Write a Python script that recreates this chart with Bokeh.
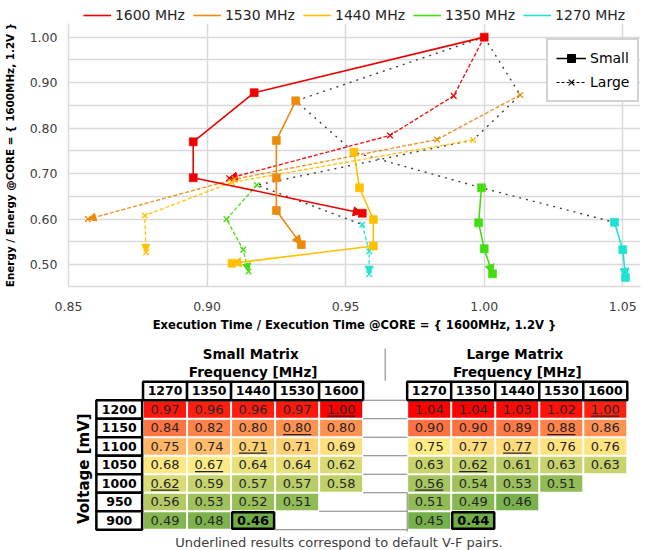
import numpy as np
from bokeh.plotting import figure
from bokeh.models import (Range1d, FixedTicker, PrintfTickFormatter, Legend, LegendItem,
                          Arrow, NormalHead, ColumnDataSource)
from bokeh.layouts import column
from bokeh.core.properties import value
from bokeh.embed import file_html
from bokeh.resources import INLINE

FONT = "DejaVu Sans"

# ---------------- chart data ----------------
freq_labels = ["1600 MHz", "1530 MHz", "1440 MHz", "1350 MHz", "1270 MHz"]
freq_colors = ["#EE0000", "#EB8A0C", "#FFC000", "#44DD11", "#1EE3D2"]

# Small matrix (solid, squares), voltage descending from 1200 mV
small_time_1600 = [1.000, 0.917, 0.895, 0.895, 0.956]
small_energy_1600 = [1.000, 0.878, 0.770, 0.691, 0.613]
small_time_1530 = [0.932, 0.925, 0.925, 0.925, 0.934]
small_energy_1530 = [0.860, 0.773, 0.691, 0.619, 0.544]
small_time_1440 = [0.953, 0.955, 0.960, 0.960, 0.909]
small_energy_1440 = [0.747, 0.669, 0.599, 0.541, 0.503]
small_time_1350 = [0.999, 0.998, 1.000, 1.003]
small_energy_1350 = [0.669, 0.592, 0.535, 0.480]
small_time_1270 = [1.047, 1.050, 1.051]
small_energy_1270 = [0.593, 0.533, 0.472]

# Large matrix (dashed, x markers)
large_time_1600 = [1.000, 0.989, 0.966, 0.908]
large_energy_1600 = [1.000, 0.871, 0.784, 0.690]
large_time_1530 = [1.013, 0.983, 0.910, 0.857]
large_energy_1530 = [0.873, 0.775, 0.688, 0.600]
large_time_1440 = [0.996, 0.909, 0.8775, 0.878]
large_energy_1440 = [0.774, 0.681, 0.608, 0.527]
large_time_1350 = [0.918, 0.907, 0.913, 0.915]
large_energy_1350 = [0.675, 0.600, 0.533, 0.485]
large_time_1270 = [0.956, 0.9585, 0.9585]
large_energy_1270 = [0.588, 0.529, 0.479]

x_ticks = [0.85, 0.90, 0.95, 1.00, 1.05]
y_ticks = [0.50, 0.60, 0.70, 0.80, 0.90, 1.00]
y_minor = [0.55, 0.65, 0.75, 0.85, 0.95]

small_series = [(small_time_1600, small_energy_1600), (small_time_1530, small_energy_1530),
                (small_time_1440, small_energy_1440), (small_time_1350, small_energy_1350),
                (small_time_1270, small_energy_1270)]
large_series = [(large_time_1600, large_energy_1600), (large_time_1530, large_energy_1530),
                (large_time_1440, large_energy_1440), (large_time_1350, large_energy_1350),
                (large_time_1270, large_energy_1270)]

# ---------------- table data ----------------
freq_cols = ["1270", "1350", "1440", "1530", "1600"]
volt_rows = ["1200", "1150", "1100", "1050", "1000", "950", "900"]
small_table = [
    [0.97, 0.96, 0.96, 0.97, 1.00],
    [0.84, 0.82, 0.80, 0.80, 0.80],
    [0.75, 0.74, 0.71, 0.71, 0.69],
    [0.68, 0.67, 0.64, 0.64, 0.62],
    [0.62, 0.59, 0.57, 0.57, 0.58],
    [0.56, 0.53, 0.52, 0.51, None],
    [0.49, 0.48, 0.46, None, None],
]
large_table = [
    [1.04, 1.04, 1.03, 1.02, 1.00],
    [0.90, 0.90, 0.89, 0.88, 0.86],
    [0.75, 0.77, 0.77, 0.76, 0.76],
    [0.63, 0.62, 0.61, 0.63, 0.63],
    [0.56, 0.54, 0.53, 0.51, None],
    [0.51, 0.49, 0.46, None, None],
    [0.45, 0.44, None, None, None],
]
# default V-F pairs (underlined): voltage -> frequency
default_pairs = {"1200": "1600", "1150": "1530", "1100": "1440", "1050": "1350", "1000": "1270"}
small_best = ("900", "1440")
large_best = ("900", "1350")

W = 649
BORDERS = dict(min_border_left=67, min_border_right=9)
NAN2 = [np.nan, np.nan]

# ================= top legend strip =================
lf = figure(width=W, height=23, x_range=Range1d(0, 1), y_range=Range1d(0, 1),
            output_backend="svg", toolbar_location=None, min_border_top=0, min_border_bottom=0,
            x_axis_location=None, y_axis_location=None, **BORDERS)
lf.grid.visible = False
lf.outline_line_color = None
leg_r = [lf.line(NAN2, NAN2, line_color=c, line_width=1.6) for c in freq_colors]
top_legend = Legend(items=[LegendItem(label=l, renderers=[r]) for l, r in zip(freq_labels, leg_r)],
                    orientation="horizontal", location="bottom_center",
                    label_text_font=FONT, label_text_font_size="14px", label_text_color="#262626",
                    glyph_width=28, glyph_height=16, label_height=16, label_standoff=4,
                    spacing=8, padding=0, margin=0, border_line_color=None,
                    background_fill_alpha=0)
lf.add_layout(top_legend)

# ================= chart =================
p = figure(width=W, height=311, x_range=Range1d(0.85, 1.0564), y_range=Range1d(0.452, 1.030),
           output_backend="svg", toolbar_location=None,
           min_border_top=0, min_border_bottom=45, **BORDERS)
p.outline_line_color = None
p.background_fill_color = "white"

p.xaxis.ticker = FixedTicker(ticks=x_ticks)
p.yaxis.ticker = FixedTicker(ticks=y_ticks, minor_ticks=y_minor)
for ax in (p.xaxis[0], p.yaxis[0]):
    ax.formatter = PrintfTickFormatter(format="%.2f")
    ax.major_tick_line_color = None
    ax.minor_tick_line_color = None
    ax.axis_line_color = "#D9D9D9"
    ax.axis_line_width = 1.5
    ax.major_label_text_font = FONT
    ax.major_label_text_font_size = "12.5px"
    ax.major_label_text_color = "#404040"
    ax.axis_label_text_font = FONT
    ax.axis_label_text_font_style = "bold"
    ax.axis_label_text_color = "black"
p.xaxis.axis_label = "Execution Time / Execution Time @CORE = { 1600MHz, 1.2V }"
p.yaxis.axis_label = "Energy / Energy @CORE = { 1600MHz, 1.2V }"
p.xaxis.axis_label_text_font_size = "11.6px"
p.yaxis.axis_label_text_font_size = "10.4px"
p.xaxis.major_label_standoff = 9
p.xaxis.axis_label_standoff = 4
p.yaxis.major_label_standoff = 5
p.yaxis.axis_label_standoff = 11

p.xgrid.grid_line_color = "#D9D9D9"
p.xgrid.grid_line_width = 1.5
p.ygrid.grid_line_color = "#D9D9D9"
p.ygrid.grid_line_width = 1.5
p.ygrid.minor_grid_line_color = "#D9D9D9"
p.ygrid.minor_grid_line_width = 1.5

# dotted black lines joining the 1200 mV points
small_first_t = [s[0][0] for s in small_series]
small_first_e = [s[1][0] for s in small_series]
large_first_t = [s[0][0] for s in large_series]
large_first_e = [s[1][0] for s in large_series]
p.line(small_first_t, small_first_e, line_color="#404040", line_width=1.4, line_dash="2 5")
p.line(large_first_t, large_first_e, line_color="#404040", line_width=1.4, line_dash="2 5")

for (tt, e), c in zip(large_series, freq_colors):
    p.line(tt, e, line_color=c, line_width=1.4, line_dash="4 2", line_alpha=0.9)
    p.add_layout(Arrow(end=NormalHead(size=8, fill_color=c, line_color=c, line_width=1),
                       x_start=tt[-2], y_start=e[-2], x_end=tt[-1], y_end=e[-1],
                       line_alpha=0, level="underlay"))
for (tt, e), c in zip(small_series, freq_colors):
    p.line(tt, e, line_color=c, line_width=1.6)
    p.add_layout(Arrow(end=NormalHead(size=9, fill_color=c, line_color=c, line_width=1),
                       x_start=tt[-2], y_start=e[-2], x_end=tt[-1], y_end=e[-1],
                       line_alpha=0, level="underlay"))
for (tt, e), c in zip(large_series, freq_colors):
    p.scatter(tt, e, marker="x", size=8, line_color=c, line_width=1.3)
for (tt, e), c in zip(small_series, freq_colors):
    p.scatter(tt, e, marker="square", size=8, fill_color=c, line_color=c, line_alpha=0.6)

# inner legend (Small / Large)
d1 = p.line(NAN2, NAN2, line_color="black", line_width=1.5)
d2 = p.scatter([np.nan], [np.nan], marker="square", size=8, color="black")
d3 = p.line(NAN2, NAN2, line_color="black", line_width=1.2, line_dash="3 2")
d4 = p.scatter([np.nan], [np.nan], marker="x", size=8, line_color="black", line_width=1.2)
inner_legend = Legend(items=[LegendItem(label="Small", renderers=[d1, d2]),
                             LegendItem(label="Large", renderers=[d3, d4])],
                      location=(478, 184), label_text_font=FONT, label_text_font_size="14px",
                      label_text_color="black", glyph_width=30, glyph_height=20, label_height=20,
                      label_standoff=4, spacing=4, padding=8, margin=0,
                      border_line_color="#A6A6A6", border_line_width=2, background_fill_color="white")
p.add_layout(inner_legend)

# ================= tables =================
t = figure(width=W, height=216, x_range=Range1d(-2.193, 10.80), y_range=Range1d(7.622, -4.054),
           output_backend="svg", toolbar_location=None, min_border_top=0, min_border_bottom=0,
           x_axis_location=None, y_axis_location=None, **BORDERS)
t.grid.visible = False
t.outline_line_color = None


def scale_colors(table):
    flat = [v for row in table for v in row if v is not None]
    lo, hi, mid = min(flat), max(flat), float(np.percentile(flat, 50))
    green, yellow, red = np.array([112, 173, 71]), np.array([255, 235, 132]), np.array([255, 0, 0])

    def col(v):
        if v <= mid:
            f = (v - lo) / (mid - lo)
            rgb = green + f * (yellow - green)
        else:
            f = (v - mid) / (hi - mid)
            rgb = yellow + f * (red - yellow)
        return "#%02X%02X%02X" % tuple(int(round(c)) for c in rgb)
    return col


cell = dict(x=[], y=[], txt=[], color=[], bold=[])
ul = dict(x0=[], x1=[], y=[])
for table, offset, best in ((small_table, 0, small_best), (large_table, 6, large_best)):
    col_of = scale_colors(table)
    for ri, (vname, row) in enumerate(zip(volt_rows, table)):
        for ci, (fname, v) in enumerate(zip(freq_cols, row)):
            if v is None:
                continue
            cell["x"].append(ci + offset)
            cell["y"].append(ri)
            cell["txt"].append("%.2f" % v)
            cell["color"].append(col_of(v))
            cell["bold"].append((vname, fname) == best)
            if default_pairs.get(vname) == fname:
                ul["x0"].append(ci + offset - 0.32)
                ul["x1"].append(ci + offset + 0.32)
                ul["y"].append(ri + 0.36)

normal = ColumnDataSource({k: [v for v, b in zip(cell[k], cell["bold"]) if not b] for k in cell})
boldc = ColumnDataSource({k: [v for v, b in zip(cell[k], cell["bold"]) if b] for k in cell})

t.rect("x", "y", width=0.955, height=0.89, fill_color="color", line_color=None, source=normal)
t.rect("x", "y", width=0.955, height=0.89, fill_color="color", line_color="black", line_width=2.5,
       source=boldc)
t.text("x", "y", text="txt", source=normal, text_align="center", text_baseline="middle",
       text_font=value(FONT), text_font_size="13px", text_color="#262626")
t.text("x", "y", text="txt", source=boldc, text_align="center", text_baseline="middle",
       text_font=value(FONT), text_font_size="13px", text_font_style="bold", text_color="black")
t.segment(x0="x0", y0="y", x1="x1", y1="y", source=ColumnDataSource(ul), line_color="#262626",
          line_width=1.2)

# header boxes
hx = [i + off for off in (0, 6) for i in range(len(freq_cols))]
hy = [-1] * len(hx)
ht = freq_cols * 2
t.rect(hx, hy, width=1, height=1, fill_color="white", line_color="black", line_width=2.5)
t.text(hx, hy, text=ht, text_align="center", text_baseline="middle", text_font=value(FONT),
       text_font_size="12.5px", text_font_style="bold", text_color="black")

# row label boxes (small table)
ry = list(range(len(volt_rows)))
rx = [-1.04] * len(ry)
t.rect(rx, ry, width=1.04, height=1, fill_color="white", line_color="black", line_width=2.5)
t.text(rx, ry, text=volt_rows, text_align="center", text_baseline="middle", text_font=value(FONT),
       text_font_size="12.5px", text_font_style="bold", text_color="black")

# titles
t.text([2, 8], [-3, -3], text=["Small  Matrix", "Large  Matrix"], text_align="center",
       text_baseline="middle", text_font=value(FONT), text_font_size="13.5px",
       text_font_style="bold", text_color="black")
t.text([2, 8], [-2, -2], text=["Frequency [MHz]", "Frequency [MHz]"], text_align="center",
       text_baseline="middle", text_font=value(FONT), text_font_size="13.5px",
       text_font_style="bold", text_color="black")
t.text([-1.83], [3.2], text=["Voltage [mV]"], angle=np.pi / 2, text_align="center",
       text_baseline="middle", text_font=value(FONT), text_font_size="15px",
       text_font_style="bold", text_color="black")
t.text([3.95], [7.2], text=["Underlined results correspond to default V-F pairs."],
       text_align="center", text_baseline="middle", text_font=value(FONT),
       text_font_size="13px", text_color="#404040")

# separator lines between tables
sep_x0 = [4.5, 4.5, 4.5, 4.5, 4.5, 4.5, 3.5, 2.5, 5.5, 5.0]
sep_x1 = [5.5, 5.5, 5.5, 5.5, 5.5, 5.5, 5.5, 5.5, 5.5, 5.0]
sep_y0 = [-0.5, 0.5, 1.5, 2.5, 3.5, 4.5, 5.5, 6.5, 4.5, -3.3]
sep_y1 = [-0.5, 0.5, 1.5, 2.5, 3.5, 4.5, 5.5, 6.5, 6.6, -1.55]
t.segment(sep_x0, sep_y0, sep_x1, sep_y1, line_color="#7F7F7F", line_width=1)

layout = column(lf, p, t)
open("out.html", "w").write(file_html(layout, INLINE))
